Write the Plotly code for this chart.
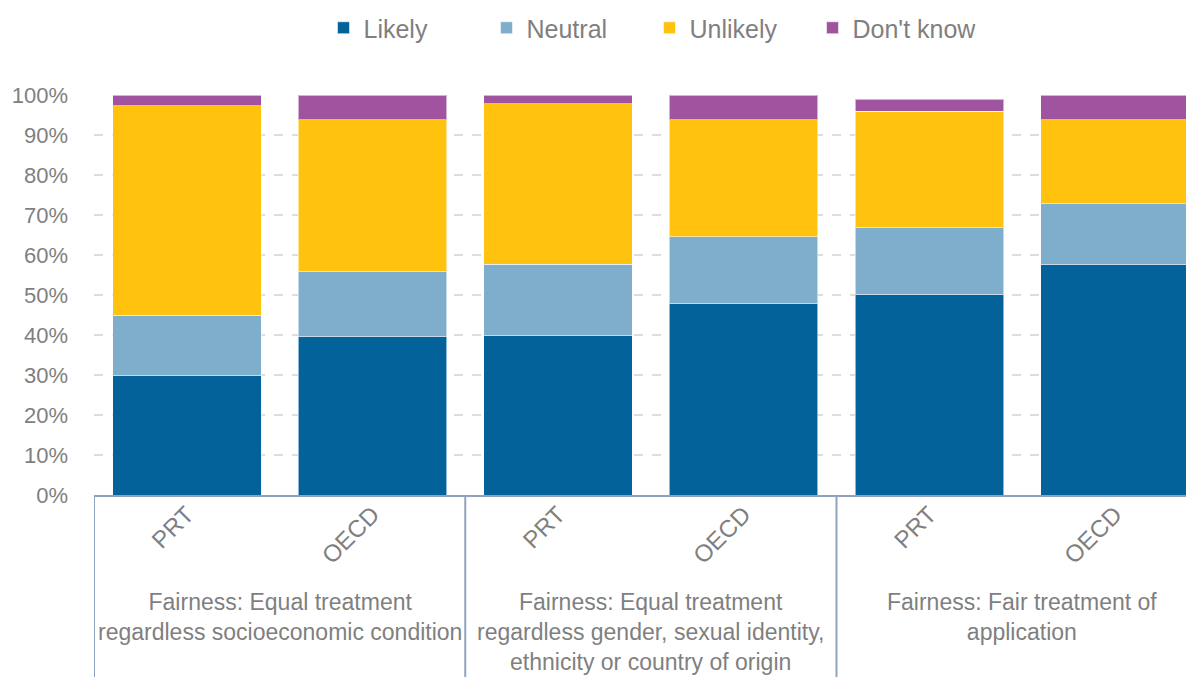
import plotly.graph_objects as go

# ---- data ----
groups = [
    "Fairness: Equal treatment<br>regardless socioeconomic condition",
    "Fairness: Equal treatment<br>regardless gender, sexual identity,<br>ethnicity or country of origin",
    "Fairness: Fair treatment of<br>application",
]
countries = ["PRT", "OECD", "PRT", "OECD", "PRT", "OECD"]
likely = [29.8, 39.6, 39.8, 47.8, 50.1, 57.6]
neutral = [15.1, 16.2, 17.9, 16.8, 16.7, 15.2]
unlikely = [52.4, 38.0, 40.1, 29.2, 29.2, 21.0]
dont_know = [2.7, 6.2, 2.2, 6.2, 2.9, 6.2]
y_ticks = [0, 10, 20, 30, 40, 50, 60, 70, 80, 90, 100]

series = [
    ("Likely", likely, "#04629A"),
    ("Neutral", neutral, "#7FAECD"),
    ("Unlikely", unlikely, "#FEC20F"),
    ("Don't know", dont_know, "#A054A0"),
]

FONT = "Liberation Sans Narrow, Arial Narrow, Liberation Sans, sans-serif"
GRAY = "#7F7F7F"
AXIS = "#8FA3BC"

W, H = 1186, 669  # page body adds an 8px margin

xpos = list(range(len(countries)))

fig = go.Figure()
for name, vals, col in series:
    fig.add_trace(go.Bar(
        x=xpos, y=vals, name=name,
        marker=dict(color=col, line=dict(color="rgba(255,255,255,0.55)", width=1)),
    ))

per_group = len(countries) // len(groups)
annotations = []
shapes = []
for gi, g in enumerate(groups):
    center = gi * per_group + (per_group - 1) / 2
    annotations.append(dict(
        x=center, xref="x", y=-0.229, yref="paper", text=g,
        showarrow=False, xanchor="center", yanchor="top",
        font=dict(family=FONT, size=23, color=GRAY), align="center",
    ))
for gi in range(len(groups) + 1):
    xd = gi * per_group - 0.5
    shapes.append(dict(
        type="line", xref="x", yref="paper", x0=xd, x1=xd, y0=0, y1=-0.5,
        line=dict(color=AXIS, width=2),
    ))

fig.update_layout(
    barmode="stack",
    bargap=0.2,
    width=W, height=H,
    margin=dict(l=86, r=0, t=87, b=182, autoexpand=False),
    paper_bgcolor="white", plot_bgcolor="white",
    font=dict(family=FONT, color=GRAY, size=24),
    showlegend=True,
    legend=dict(
        orientation="h", x=0.505, xanchor="center",
        yref="container", y=1 - 20 / H, yanchor="middle",
        font=dict(family=FONT, size=25, color=GRAY),
        entrywidth=118, traceorder="normal",
    ),
    xaxis=dict(
        range=[-0.5, 5.426], automargin=False,
        tickmode="array", tickvals=xpos, ticktext=countries,
        tickangle=-45, showgrid=False, zeroline=False,
        showline=True, linecolor=AXIS, linewidth=2,
        ticks="", ticklabelstandoff=-6,
        tickfont=dict(family=FONT, size=24, color=GRAY),
    ),
    yaxis=dict(
        range=[0, 100], automargin=False,
        tickmode="array", tickvals=y_ticks, ticktext=[f"{v}%" for v in y_ticks],
        showgrid=True, gridcolor="#DEDEDE", griddash="dash", gridwidth=1.5,
        zeroline=False, showline=False, ticks="", ticklabelstandoff=25,
        tickfont=dict(family=FONT, size=22, color=GRAY),
    ),
    annotations=annotations,
    shapes=shapes,
)

fig.write_html("out.html")
